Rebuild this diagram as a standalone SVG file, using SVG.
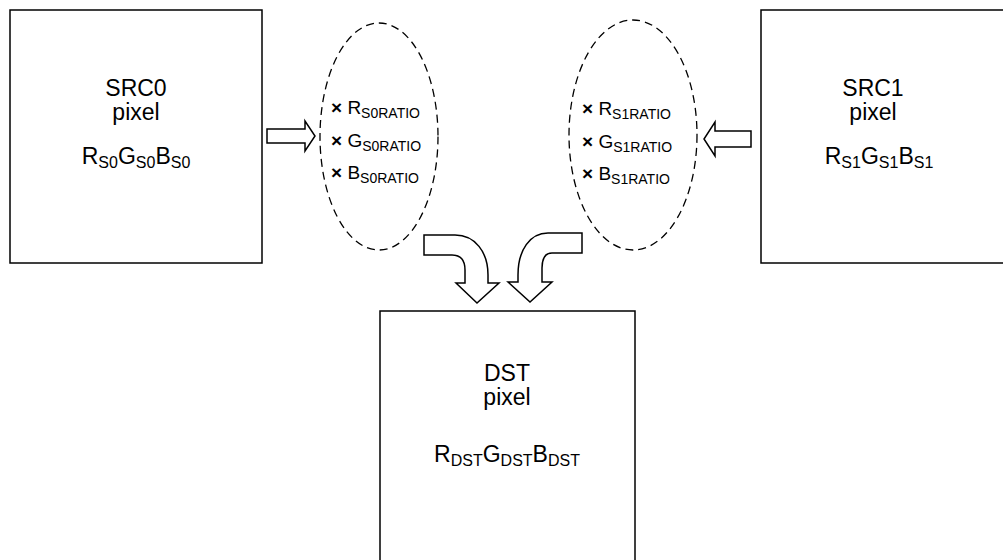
<svg xmlns="http://www.w3.org/2000/svg" width="1003" height="560" viewBox="0 0 1003 560">
<style>
.box{fill:#fff;stroke:#000;stroke-width:1.5}
.ell{fill:none;stroke:#000;stroke-width:1.3;stroke-dasharray:8 5}
.arr{fill:#fff;stroke:#000;stroke-width:1.5;stroke-linejoin:miter}
.t{font-family:"Liberation Sans",Arial,sans-serif;font-size:23px;fill:#000}
.s{font-size:16px}
.e{font-family:"Liberation Sans",Arial,sans-serif;font-size:19px;fill:#000}
.es{font-size:14px}
.x{font-weight:bold}
</style>
<rect width="1003" height="560" fill="#fff"/>
<g id="src0">
<rect class="box" x="10" y="10" width="252" height="253"/>
<text class="t" x="136" y="96" text-anchor="middle">SRC0</text>
<text class="t" x="136" y="120" text-anchor="middle">pixel</text>
<text class="t" x="136" y="164" text-anchor="middle">R<tspan class="s" dy="4">S0</tspan><tspan dy="-4">G</tspan><tspan class="s" dy="4">S0</tspan><tspan dy="-4">B</tspan><tspan class="s" dy="4">S0</tspan></text>
</g>
<g id="src1">
<rect class="box" x="761" y="10" width="252" height="253"/>
<text class="t" x="873" y="96" text-anchor="middle">SRC1</text>
<text class="t" x="873" y="120" text-anchor="middle">pixel</text>
<text class="t" x="879" y="164" text-anchor="middle">R<tspan class="s" dy="4">S1</tspan><tspan dy="-4">G</tspan><tspan class="s" dy="4">S1</tspan><tspan dy="-4">B</tspan><tspan class="s" dy="4">S1</tspan></text>
</g>
<g id="dst">
<rect class="box" x="380" y="311" width="255" height="260"/>
<text class="t" x="507" y="381" text-anchor="middle">DST</text>
<text class="t" x="507" y="405" text-anchor="middle">pixel</text>
<text class="t" x="507" y="462" text-anchor="middle">R<tspan class="s" dy="4">DST</tspan><tspan dy="-4">G</tspan><tspan class="s" dy="4">DST</tspan><tspan dy="-4">B</tspan><tspan class="s" dy="4">DST</tspan></text>
</g>
<g id="ratio0">
<ellipse class="ell" cx="379" cy="136.5" rx="59" ry="113.5"/>
<text class="e" x="331" y="114"><tspan class="x">×</tspan> R<tspan class="es" dy="4">S0RATIO</tspan></text>
<text class="e" x="331" y="147"><tspan class="x">×</tspan> G<tspan class="es" dy="4">S0RATIO</tspan></text>
<text class="e" x="331" y="179"><tspan class="x">×</tspan> B<tspan class="es" dy="4">S0RATIO</tspan></text>
</g>
<g id="ratio1">
<ellipse class="ell" cx="633" cy="135" rx="64" ry="115"/>
<text class="e" x="582" y="115"><tspan class="x">×</tspan> R<tspan class="es" dy="4">S1RATIO</tspan></text>
<text class="e" x="582" y="148"><tspan class="x">×</tspan> G<tspan class="es" dy="4">S1RATIO</tspan></text>
<text class="e" x="582" y="180"><tspan class="x">×</tspan> B<tspan class="es" dy="4">S1RATIO</tspan></text>
</g>
<g id="connectors">
<path class="arr" d="M267,129 H305 V121 L315,136 L305,151 V143 H267 Z"/>
<path class="arr" d="M751,131 H715 V122 L704,139 L715,156 V147 H751 Z"/>
<path class="arr" d="M424,235 H455 C475,235 488,252 488,275 V283 H499 L477,303 L456,283 H465 V270 C465,261 461,255 452,255 H424 Z"/>
<path class="arr" d="M582,233 V253 H552 C546,253 542,258 542,268 V282 H552 L530,302 L508,282 H518 V275 C518,250 530,233 548,233 Z"/>
</g>
</svg>
